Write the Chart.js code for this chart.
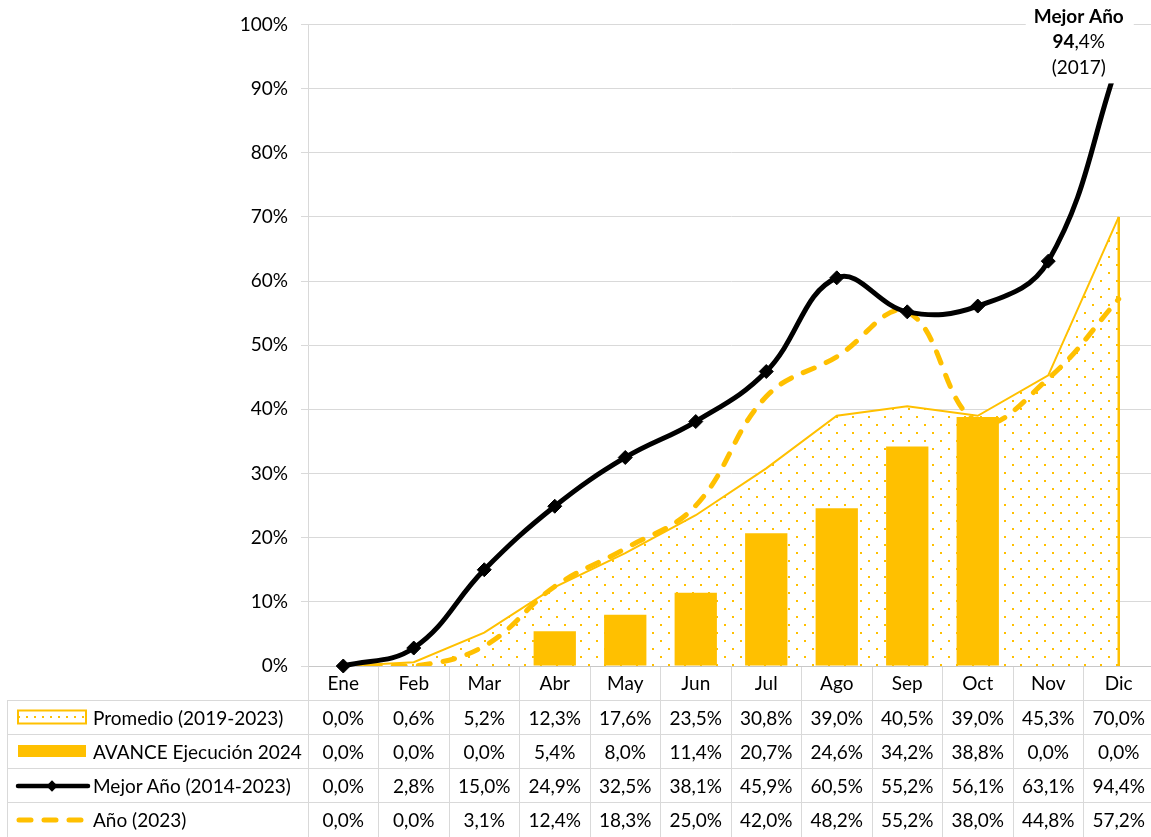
<!DOCTYPE html>
<html><head><meta charset="utf-8">
<script src="https://cdn.jsdelivr.net/npm/chart.js@4.4.0/dist/chart.umd.min.js"></script>
<style>
html,body{margin:0;padding:0;background:#fff;overflow:hidden;}
#wrap{position:relative;width:1151px;height:837px;overflow:hidden;font-family:Lato,'Open Sans',sans-serif;}
#c{position:absolute;left:0;top:0;}
.cell{position:absolute;box-sizing:border-box;display:flex;align-items:center;font-size:19px;color:#000;white-space:nowrap;}
.val{justify-content:center;}
.ln{position:absolute;background:#d9d9d9;}
</style></head><body>
<div id="wrap"><canvas id="c" width="1162" height="837"></canvas><div id="tbl"></div></div>
<script>
const categories = ['Ene','Feb','Mar','Abr','May','Jun','Jul','Ago','Sep','Oct','Nov','Dic'];
const promedio  = [0.0, 0.6, 5.2, 12.3, 17.6, 23.5, 30.8, 39.0, 40.5, 39.0, 45.3, 70.0];
const avance    = [0.0, 0.0, 0.0, 5.4, 8.0, 11.4, 20.7, 24.6, 34.2, 38.8, 0.0, 0.0];
const mejorAnio = [0.0, 2.8, 15.0, 24.9, 32.5, 38.1, 45.9, 60.5, 55.2, 56.1, 63.1, 94.4];
const anio2023  = [0.0, 0.0, 3.1, 12.4, 18.3, 25.0, 42.0, 48.2, 55.2, 38.0, 44.8, 57.2];
const seriesNames = ['Promedio (2019-2023)','AVANCE Ejecución 2024','Mejor Año (2014-2023)','Año (2023)'];
const bestYear = '2017';
const yMin = 0, yMax = 100, yStep = 10;

const YEL = '#FFC000';
const FONT = "Lato, 'Open Sans', sans-serif";
const fmt = v => v.toFixed(1).replace('.', ',') + '%';

const canvas = document.getElementById('c');
const ctx = canvas.getContext('2d');
function dotPattern(){
  const p = document.createElement('canvas'); p.width = 16; p.height = 16;
  const g = p.getContext('2d');
  g.fillStyle = '#fff'; g.fillRect(0,0,16,16);
  g.fillStyle = YEL; g.fillRect(4,0,2,2); g.fillRect(12,8,2,2);
  return ctx.createPattern(p, 'repeat');
}

const edgePlugin = {
  id: 'edge',
  afterDatasetDraw(chart, args){
    if (args.index !== 2) return;
    const x = chart.scales.x.getPixelForValue(11);
    const y1 = chart.scales.y.getPixelForValue(promedio[11]);
    const y0 = chart.scales.y.getPixelForValue(0);
    const c = chart.ctx; c.save();
    c.strokeStyle = YEL; c.lineWidth = 2.5;
    c.beginPath(); c.moveTo(x, y1); c.lineTo(x, y0); c.stroke();
    c.restore();
  }
};

const labelPlugin = {
  id: 'bestLabel',
  afterDatasetsDraw(chart){
    const c = chart.ctx;
    const cx = chart.scales.x.getPixelForValue(11) - 40;
    const yTop = chart.scales.y.getPixelForValue(yMax);
    c.save();
    c.fillStyle = '#fff';
    c.fillRect(cx - 53, yTop - 20, 108, 79);
    c.fillStyle = '#000';
    c.textBaseline = 'middle';
    c.textAlign = 'center';
    c.font = 'bold 19px ' + FONT;
    c.fillText('Mejor Año', cx, yTop - 8);
    const v = fmt(mejorAnio[11]);
    const parts = v.split(',');
    const a = parts[0], b = ',' + parts[1];
    c.font = 'bold 19px ' + FONT; const wa = c.measureText(a).width;
    c.font = '19px ' + FONT; const wb = c.measureText(b).width;
    const x0 = cx - (wa + wb)/2;
    c.textAlign = 'left';
    c.font = 'bold 19px ' + FONT; c.fillText(a, x0, yTop + 17);
    c.font = '19px ' + FONT; c.fillText(b, x0 + wa, yTop + 17);
    c.textAlign = 'center';
    c.fillText('(' + bestYear + ')', cx, yTop + 43);
    c.restore();
  }
};

Chart.defaults.font.family = FONT;
Chart.defaults.font.size = 19;
Chart.defaults.color = '#000';

const chart = new Chart(canvas, {
  type: 'bar',
  data: {
    labels: categories,
    datasets: [
      { type:'line', label: seriesNames[2], data: mejorAnio, borderColor:'#000', backgroundColor:'#000',
        borderWidth:5, tension:0.4, pointStyle:'rectRot', pointRadius:7, pointHoverRadius:7,
        pointBackgroundColor:'#000', pointBorderColor:'#000', pointBorderWidth:1, order:0, clip:10, fill:false },
      { type:'line', label: seriesNames[3], data: anio2023, borderColor:YEL, borderWidth:5,
        borderDash:[12,13], borderCapStyle:'round', tension:0.4, pointRadius:0, order:1, fill:false },
      { type:'line', label: seriesNames[0], data: promedio, borderColor:YEL, borderWidth:2,
        backgroundColor: dotPattern(), fill:'origin', tension:0, pointRadius:0, order:2 },
      { type:'bar', label: seriesNames[1], data: avance, backgroundColor:YEL, borderWidth:0,
        barPercentage:0.6, categoryPercentage:1, order:3 }
    ]
  },
  options: {
    responsive:false, animation:false,
    layout:{ padding:{ top:23, left:0, right:0, bottom:137 } },
    plugins:{ legend:{display:false}, tooltip:{enabled:false}, filler:{drawTime:'beforeDatasetsDraw'} },
    scales:{
      x:{
        offset:true,
        grid:{ offset:true, drawOnChartArea:false, drawTicks:true, tickLength:34, color:'#d9d9d9' },
        border:{ color:'#c8c8c8', width:1 },
        ticks:{ padding:-28, color:'#000', font:{size:19} },
        afterFit(s){ s.height = 34; }
      },
      y:{
        min:yMin, max:yMax,
        ticks:{ stepSize:yStep, padding:13, color:'#000', font:{size:19}, callback:v => v + '%' },
        grid:{ color:'#d9d9d9', tickLength:7 },
        border:{ color:'#d9d9d9' },
        afterFit(s){ s.width = 308; }
      }
    }
  },
  plugins:[edgePlugin, labelPlugin]
});

// data table beneath the chart, aligned with the x scale
(function buildTable(){
  const tbl = document.getElementById('tbl');
  const ca = chart.chartArea;
  const xs = chart.scales.x;
  const colW = (ca.right - ca.left) / categories.length;
  const top0 = ca.bottom + 34;
  const rowH = (chart.height - top0) / 4;
  const leftX = 7;
  const rows = [promedio, avance, mejorAnio, anio2023];
  let html = '';
  for (let r = 0; r < 4; r++) {
    const y = top0 + r*rowH;
    html += `<div class="ln" style="left:${leftX}px;top:${y-0.5}px;width:${chart.width-leftX}px;height:1px"></div>`;
  }
  html += `<div class="ln" style="left:${leftX}px;top:${top0}px;width:1px;height:${chart.height-top0}px"></div>`;
  for (let k = 0; k <= categories.length; k++) {
    const x = ca.left + k*colW;
    html += `<div class="ln" style="left:${x-0.5}px;top:${top0}px;width:1px;height:${chart.height-top0}px"></div>`;
  }
  const keys = [
    `<svg width="74" height="18" viewBox="0 0 74 18"><defs><pattern id="dp" width="8" height="8" patternUnits="userSpaceOnUse"><rect width="8" height="8" fill="#fff"/><rect x="3" y="0" width="2" height="2" fill="${YEL}"/></pattern></defs><rect x="3" y="2.5" width="68" height="13" fill="url(#dp)" stroke="${YEL}" stroke-width="2"/></svg>`,
    `<svg width="74" height="18" viewBox="0 0 74 18"><rect x="3" y="3" width="68" height="12" fill="${YEL}"/></svg>`,
    `<svg width="76" height="18" viewBox="0 0 76 18"><line x1="3" y1="9" x2="73" y2="9" stroke="#000" stroke-width="4.5" stroke-linecap="round"/><rect x="33" y="5" width="8" height="8" fill="#000" transform="rotate(45 37 9)"/></svg>`,
    `<svg width="76" height="18" viewBox="0 0 76 18"><line x1="4" y1="9" x2="66" y2="9" stroke="${YEL}" stroke-width="5" stroke-linecap="round" stroke-dasharray="12 13"/></svg>`
  ];
  for (let r = 0; r < 4; r++) {
    const y = top0 + r*rowH;
    html += `<div class="cell" style="left:15px;top:${y}px;height:${rowH}px">${keys[r]}</div>`;
    html += `<div class="cell" style="left:93px;top:${y}px;height:${rowH}px">${seriesNames[r]}</div>`;
    rows[r].forEach((v, i) => {
      const cx = xs.getPixelForValue(i);
      html += `<div class="cell val" style="left:${cx-colW/2}px;top:${y}px;width:${colW}px;height:${rowH}px">${fmt(v)}</div>`;
    });
  }
  tbl.innerHTML = html;
})();
</script>
</body></html>
